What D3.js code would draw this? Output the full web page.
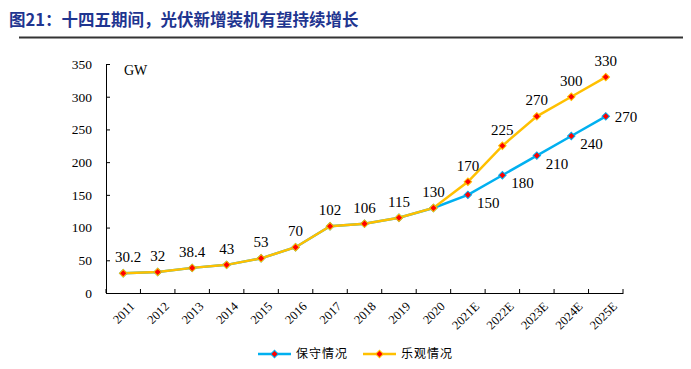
<!DOCTYPE html>
<html>
<head>
<meta charset="utf-8">
<script src="https://cdn.jsdelivr.net/npm/d3@7"></script>
<style>
  body { margin: 0; background: #fff; }
  svg { display: block; }
  .serif { font-family: "Liberation Serif", "Times New Roman", "DejaVu Serif", serif; }
</style>
</head>
<body>
<div id="chart"></div>
<script>
// chart data
const years = ["2011", "2012", "2013", "2014", "2015", "2016", "2017", "2018", "2019", "2020",
  "2021E", "2022E", "2023E", "2024E", "2025E"];
const conservative = [30.2, 32, 38.4, 43, 53, 70, 102, 106, 115, 130, 150, 180, 210, 240, 270];
const optimistic = [30.2, 32, 38.4, 43, 53, 70, 102, 106, 115, 130, 170, 225, 270, 300, 330];
const yTicks = [0, 50, 100, 150, 200, 250, 300, 350];
const seriesNames = ["保守情况", "乐观情况"];

const width = 691, height = 369;
const margin = { left: 106, right: 68, top: 64, bottom: 76 };

const svg = d3.select("#chart").append("svg")
  .attr("width", width)
  .attr("height", height);

// title
svg.append("text")
  .attr("x", 9)
  .attr("y", 26)
  .attr("font-family", "'Noto Sans CJK SC', sans-serif")
  .attr("font-weight", "bold")
  .attr("font-size", 16.5)
  .attr("fill", "#1f3590")
  .text("图21：十四五期间，光伏新增装机有望持续增长");

svg.append("line")
  .attr("x1", 19).attr("x2", 683)
  .attr("y1", 37.5).attr("y2", 37.5)
  .attr("stroke", "#333")
  .attr("stroke-width", 2);

const x = d3.scaleBand().domain(years)
  .range([margin.left, width - margin.right]);
const y = d3.scaleLinear().domain([0, 350])
  .range([height - margin.bottom, margin.top]);

// y axis
const yAxis = svg.append("g")
  .attr("transform", `translate(${margin.left},0)`)
  .call(d3.axisLeft(y).tickValues(yTicks).tickSizeInner(-4).tickSizeOuter(0).tickPadding(14));
yAxis.attr("font-family", null).attr("font-size", null);
yAxis.select(".domain").attr("stroke", "#000");
yAxis.selectAll(".tick line").attr("stroke", "#000");
yAxis.selectAll("text")
  .attr("class", "serif")
  .attr("font-size", 13.5)
  .attr("fill", "#000");

// x axis
const xAxis = svg.append("g")
  .attr("transform", `translate(0,${y(0)})`)
  .call(d3.axisBottom(x).tickSize(0).tickFormat(""));
xAxis.attr("font-family", null).attr("font-size", null);
xAxis.select(".domain").attr("stroke", "#000");
xAxis.selectAll(".tick").remove();

// x ticks at band boundaries, pointing up
const bounds = years.map(d => x(d)).concat([x(years[years.length - 1]) + x.bandwidth()]);
xAxis.selectAll(".btick")
  .data(bounds)
  .join("line")
  .attr("class", "btick")
  .attr("x1", d => d).attr("x2", d => d)
  .attr("y1", 0).attr("y2", -4)
  .attr("stroke", "#000");

xAxis.selectAll(".xlabel")
  .data(years)
  .join("text")
  .attr("class", "xlabel serif")
  .attr("transform", d => `translate(${x(d) + x.bandwidth() / 2 + 6},${8}) rotate(-45)`)
  .attr("text-anchor", "end")
  .attr("dy", "0.7em")
  .attr("font-size", 12.5)
  .attr("fill", "#000")
  .text(d => d);

// unit
svg.append("text")
  .attr("class", "serif")
  .attr("x", 124)
  .attr("y", 75)
  .attr("font-size", 14)
  .attr("fill", "#000")
  .text("GW");

const cx = d => x(d) + x.bandwidth() / 2;
const line = d3.line().x((d, i) => cx(years[i])).y(d => y(d));
const diamond = d3.symbol().type(d3.symbolSquare).size(28);

const series = [
  { name: seriesNames[0], values: conservative, color: "#00b0f0" },
  { name: seriesNames[1], values: optimistic, color: "#ffc000" }
];

// lines: optimistic drawn last so shared segment shows yellow
series.forEach(s => {
  svg.append("path")
    .datum(s.values)
    .attr("d", line)
    .attr("fill", "none")
    .attr("stroke", s.color)
    .attr("stroke-width", 2.5);
});

series.forEach(s => {
  svg.selectAll(null)
    .data(s.values)
    .join("path")
    .attr("d", diamond)
    .attr("transform", (d, i) => `translate(${cx(years[i])},${y(d)}) rotate(45)`)
    .attr("fill", "#ff0000")
    .attr("stroke", s.color)
    .attr("stroke-width", 1);
});

// data labels: optimistic above every point
svg.selectAll(".lblTop")
  .data(optimistic)
  .join("text")
  .attr("class", "lblTop serif")
  .attr("x", (d, i) => cx(years[i]) + (i === 0 ? 5 : 0))
  .attr("y", d => y(d) - 11)
  .attr("text-anchor", "middle")
  .attr("font-size", 15)
  .attr("fill", "#000")
  .text(d => d);

// conservative labels to the right (forecast years only)
svg.selectAll(".lblRight")
  .data(conservative.map((v, i) => ({ v, i })).filter(d => d.i >= 10))
  .join("text")
  .attr("class", "lblRight serif")
  .attr("x", d => cx(years[d.i]) + 9)
  .attr("y", d => y(d.v) + (d.i === 14 ? 0 : 8))
  .attr("dy", "0.35em")
  .attr("font-size", 15)
  .attr("fill", "#000")
  .text(d => d.v);

// legend
const legend = svg.append("g").attr("transform", "translate(258,354)");
const legendItems = [
  { name: seriesNames[0], color: "#00b0f0", dx: 0 },
  { name: seriesNames[1], color: "#ffc000", dx: 105 }
];
legendItems.forEach(it => {
  const g = legend.append("g").attr("transform", `translate(${it.dx},0)`);
  g.append("line")
    .attr("x1", 0).attr("x2", 33)
    .attr("y1", 0).attr("y2", 0)
    .attr("stroke", it.color)
    .attr("stroke-width", 2.5);
  g.append("path")
    .attr("d", diamond)
    .attr("transform", "translate(16.5,0) rotate(45)")
    .attr("fill", "#ff0000")
    .attr("stroke", it.color);
  g.append("text")
    .attr("x", 38)
    .attr("y", 0)
    .attr("dy", "0.35em")
    .attr("font-family", "'Noto Sans CJK SC', sans-serif")
    .attr("font-size", 12)
    .attr("letter-spacing", 1)
    .attr("fill", "#000")
    .text(it.name);
});
</script>
</body>
</html>
